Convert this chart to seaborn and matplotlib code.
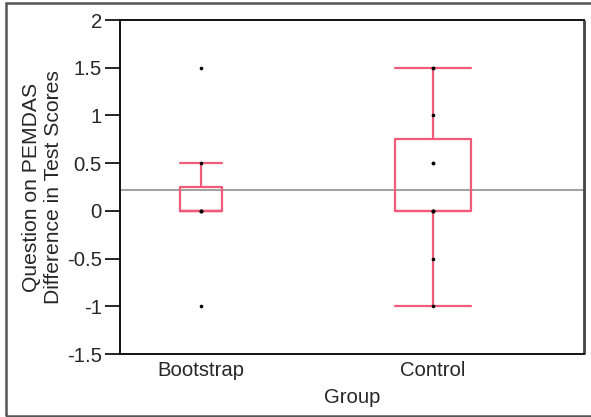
import numpy as np
import pandas as pd
import matplotlib
matplotlib.use("Agg")
import matplotlib.pyplot as plt
from matplotlib.patches import Rectangle
import seaborn as sns

# ---- data ----
GROUPS = ["Bootstrap", "Control"]
bootstrap_scores = [-1.0, 0.0, 0.0, 0.0, 0.0, 0.5, 1.5]
control_scores = [-1.0, -0.5, 0.0, 0.0, 0.0, 0.0, 0.5, 0.5, 1.0, 1.5, 1.5]
GRAND_MEAN = 0.22
Y_TICKS = [-1.5, -1, -0.5, 0, 0.5, 1, 1.5, 2]
Y_TICK_LABELS = ["-1.5", "-1", "-0.5", "0", "0.5", "1", "1.5", "2"]

df = pd.DataFrame({
    "Group": ["Bootstrap"] * len(bootstrap_scores) + ["Control"] * len(control_scores),
    "Score": bootstrap_scores + control_scores,
})

sns.set_style("white")
plt.rcParams["font.family"] = ["Liberation Sans", "DejaVu Sans"]

RED = "#F25A78"
FS = 14.6

fig = plt.figure(figsize=(5.91, 4.17), dpi=100)
ax = fig.add_axes([120 / 591, 1 - 354 / 417, 464 / 591, 334 / 417])

# grand mean line
ax.axhline(GRAND_MEAN, color="#999999", lw=1.3, zorder=1)

box_widths = [0.181, 0.328]
for grp, w in zip(GROUPS, box_widths):
    sns.boxplot(data=df[df["Group"] == grp], x="Group", y="Score", order=GROUPS,
                width=w, fill=False, color=RED, linewidth=1.6, showfliers=False,
                whis=1.5, capwidths=w, ax=ax, zorder=2)

sns.stripplot(data=df, x="Group", y="Score", order=GROUPS, jitter=False,
              color="black", size=2.6, ax=ax, zorder=3)

ax.set_xlim(-0.349, 1.651)
ax.set_ylim(-1.5, 2)
ax.set_yticks(Y_TICKS)
ax.set_yticklabels(Y_TICK_LABELS, fontsize=FS)
ax.set_xticks([0, 1])
ax.set_xticklabels(GROUPS, fontsize=FS)
ax.tick_params(axis="x", which="major", length=0, pad=5)
ax.set_xticks([0.349], minor=True)
ax.tick_params(axis="x", which="minor", length=10, width=1.2, color="black", direction="out")
ax.tick_params(axis="y", length=11, width=1.2, color="black", direction="out", pad=2, left=True)

for s in ax.spines.values():
    s.set_visible(True)
    s.set_color("black")
    s.set_linewidth(1.3)
ax.spines["right"].set_color("#444444")
ax.spines["right"].set_linewidth(2)
ax.spines["right"].set_capstyle("butt")

ax.set_xlabel("Group", fontsize=FS, labelpad=6)
ax.set_ylabel("Question on PEMDAS\nDifference in Test Scores", fontsize=15.2, labelpad=2.5,
              linespacing=1.2)

# outer frame
fig.patches.append(Rectangle((6 / 591, 1 / 417), 1.2, 1 - 4 / 417, transform=fig.transFigure,
                             fill=False, edgecolor="#555555", lw=1.8, clip_on=False))

fig.savefig("out.png", dpi=100)
